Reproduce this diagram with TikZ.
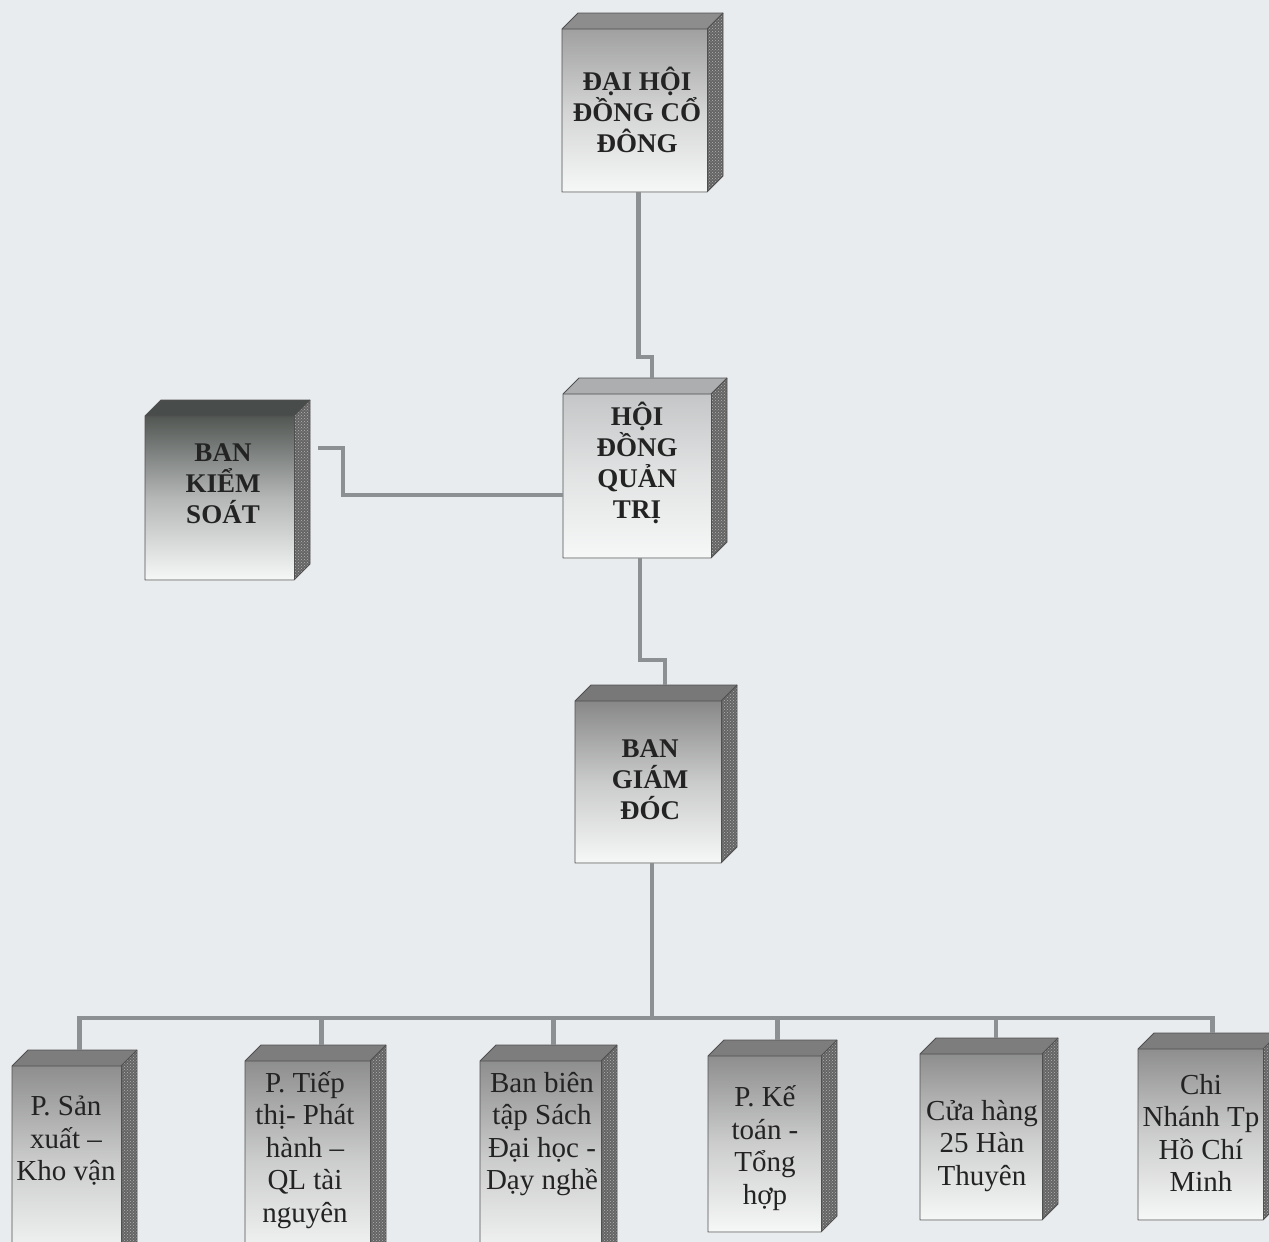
\documentclass[tikz,border=0pt]{standalone}
\usepackage{fontspec}
\setmainfont{Liberation Serif}
\usetikzlibrary{patterns}
\definecolor{bg}{RGB}{233,236,239}
\definecolor{linec}{RGB}{140,144,147}
\definecolor{edgec}{RGB}{80,80,80}
\definecolor{sidec}{RGB}{100,100,100}
\definecolor{dotc}{RGB}{180,180,180}
\definecolor{frontbot}{RGB}{246,247,247}
\definecolor{txtc}{RGB}{35,35,35}
\definecolor{shA}{RGB}{160,160,160}
\definecolor{shB}{RGB}{196,198,199}
\definecolor{shC}{RGB}{82,87,84}
\definecolor{shD}{RGB}{136,136,136}
\definecolor{shE}{RGB}{142,142,142}
\tikzset{
  boldlbl/.style={font=\bfseries\fontsize{27}{31}\selectfont, text=txtc, align=center, inner sep=0pt},
  lbl/.style={font=\fontsize{29}{32.5}\selectfont, text=txtc, align=center, inner sep=0pt},
  conn/.style={draw=linec, line width=4.5pt},
  cubeedge/.style={draw=edgec, line width=0.8pt, line join=round}
}
% #1 name, #2 x left, #3 y top, #4 x right, #5 y bottom, #6 top shade colour
\newcommand{\cubebox}[6]{%
  \shade[top color=#6, bottom color=frontbot, middle color=#6!40!frontbot] (#2,#3+16) rectangle (#4-16,#5);
  \fill[#6!88!black] (#2,#3+16) -- (#2+16,#3) -- (#4,#3) -- (#4-16,#3+16) -- cycle;
  \fill[sidec] (#4-16,#3+16) -- (#4,#3) -- (#4,#5-16) -- (#4-16,#5) -- cycle;
  \fill[pattern=crosshatch dots, pattern color=dotc] (#4-16,#3+16) -- (#4,#3) -- (#4,#5-16) -- (#4-16,#5) -- cycle;
  \draw[cubeedge] (#2,#3+16) -- (#2,#5) -- (#4-16,#5) -- (#4,#5-16) -- (#4,#3) -- (#2+16,#3) -- cycle;
  \draw[cubeedge] (#2,#3+16) -- (#4-16,#3+16) -- (#4,#3);
  \draw[cubeedge] (#4-16,#3+16) -- (#4-16,#5);
  \node[inner sep=0pt, minimum width={#4-#2}, minimum height={#5-#3}] (#1) at ({(#2+#4)/2},{(#3+#5)/2}) {};
}
\begin{document}
\begin{tikzpicture}[x=1pt,y=-1pt]
\useasboundingbox (0,0) rectangle (1269,1242);
\fill[bg] (0,0) rectangle (1269,1242);
\clip (0,0) rectangle (1269,1242);

% boxes
\cubebox{dh}{562}{13}{723}{192}{shA}
\node[boldlbl] (dht) at (637,110) {ĐẠI HỘI\\ĐỒNG CỔ\\ĐÔNG};

\cubebox{hd}{563}{378}{727}{558}{shB}
\node[boldlbl] (hdt) at (637,463) {HỘI\\ĐỒNG\\QUẢN\\TRỊ};

\cubebox{bks}{145}{400}{310}{580}{shC}
\node[boldlbl] (bkst) at (223,484) {BAN\\KIỂM\\SOÁT};

\cubebox{bgd}{575}{685}{737}{863}{shD}
\node[boldlbl] (bgdt) at (650,780) {BAN\\GIÁM\\ĐÓC};

\cubebox{c1}{12}{1050}{137}{1262}{shE}
\node[lbl] (c1t) at (66,1141) {P. Sản\\xuất –\\Kho vận};

\cubebox{c2}{245}{1045}{386}{1262}{shE}
\node[lbl] (c2t) at (305,1150) {P. Tiếp\\thị- Phát\\hành –\\QL tài\\nguyên};

\cubebox{c3}{480}{1045}{617}{1262}{shE}
\node[lbl] (c3t) at (542,1134) {Ban biên\\tập Sách\\Đại học -\\Dạy nghề};

\cubebox{c4}{708}{1040}{837}{1232}{shE}
\node[lbl] (c4t) at (765,1148) {P. Kế\\toán -\\Tổng\\hợp};

\cubebox{c5}{920}{1038}{1058}{1220}{shE}
\node[lbl] (c5t) at (982,1146) {Cửa hàng\\25 Hàn\\Thuyên};

\cubebox{c6}{1138}{1033}{1279}{1220}{shE}
\node[lbl] (c6t) at (1201,1133) {Chi\\Nhánh Tp\\Hồ Chí\\Minh};

% connectors
\draw[conn] ([xshift=-4pt]dh.south) -- ++(0,165) -| ([xshift=7pt]hd.north);
\draw[conn] ([xshift=-5pt]hd.south) -- ++(0,102) -| ([xshift=9pt]bgd.north);
\draw[conn] ([xshift=8pt,yshift=42pt]bks.east) -- ++(25,0) |- ([yshift=-27pt]hd.west);

\coordinate (bus) at (0,1018);
\coordinate (top) at ([xshift=-4pt]bgd.south);
\coordinate (d1) at ([xshift=5pt]c1.north);
\coordinate (d2) at ([xshift=6pt]c2.north);
\coordinate (d3) at ([xshift=5pt]c3.north);
\coordinate (d4) at ([xshift=5pt]c4.north);
\coordinate (d5) at ([xshift=7pt]c5.north);
\coordinate (d6) at ([xshift=4pt]c6.north);
\draw[conn] (top) -- (top |- bus);
\draw[conn, line cap=rect] (d1 |- bus) -- (d6 |- bus);
\foreach \d in {d1,d2,d3,d4,d5,d6} {
  \draw[conn] (\d |- bus) -- (\d);
}
\end{tikzpicture}
\end{document}
